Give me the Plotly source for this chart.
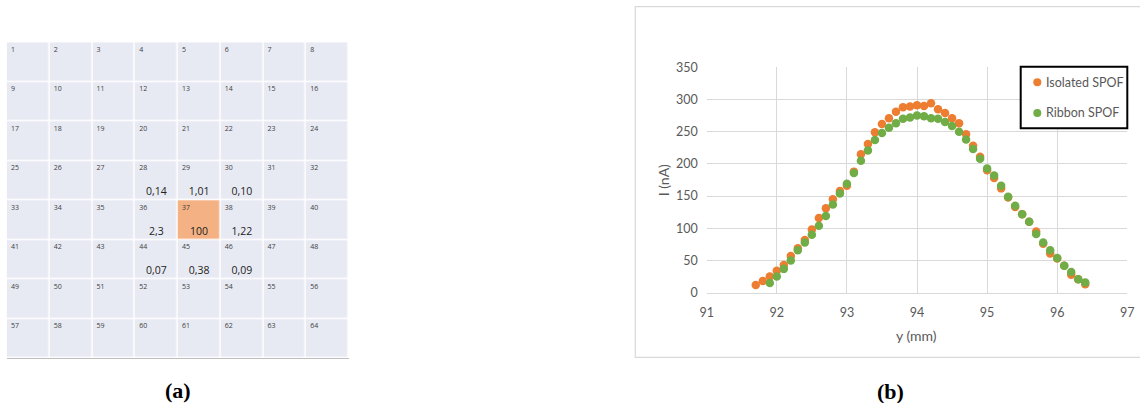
import plotly.graph_objects as go

# ---------------- data ----------------
y_mm_isolated = [91.7, 91.8, 91.9, 92.0, 92.1, 92.2, 92.3, 92.4, 92.5, 92.6, 92.7, 92.8, 92.9,
                 93.0, 93.1, 93.2, 93.3, 93.4, 93.5, 93.6, 93.7, 93.8, 93.9, 94.0, 94.1, 94.2,
                 94.3, 94.4, 94.5, 94.6, 94.7, 94.8, 94.9, 95.0, 95.1, 95.2, 95.3, 95.4, 95.5,
                 95.6, 95.7, 95.8, 95.9, 96.0, 96.1, 96.2, 96.3, 96.4]
i_isolated = [12, 18, 25, 34, 43, 57, 69, 82, 98, 116, 131, 145, 158,
              166, 188, 215, 231, 249, 262, 271, 281, 288, 289, 291, 290, 294,
              285, 279, 271, 263, 246, 228, 211, 190, 178, 162, 148, 133, 122,
              110, 95, 76, 61, 53, 42, 28, 21, 13]

y_mm_ribbon = [91.9, 92.0, 92.1, 92.2, 92.3, 92.4, 92.5, 92.6, 92.7, 92.8, 92.9,
               93.0, 93.1, 93.2, 93.3, 93.4, 93.5, 93.6, 93.7, 93.8, 93.9, 94.0, 94.1, 94.2,
               94.3, 94.4, 94.5, 94.6, 94.7, 94.8, 94.9, 95.0, 95.1, 95.2, 95.3, 95.4, 95.5,
               95.6, 95.7, 95.8, 95.9, 96.0, 96.1, 96.2, 96.3, 96.4]
i_ribbon = [15, 25, 37, 50, 66, 78, 90, 104, 119, 137, 154,
            169, 186, 205, 221, 237, 248, 256, 263, 270, 272, 275, 274, 271,
            270, 265, 259, 250, 238, 223, 208, 193, 182, 166, 149, 135, 122,
            110, 91, 78, 66, 54, 42, 32, 21, 16]

series_names = ["Isolated SPOF", "Ribbon SPOF"]
series_colors = ["#ED7D31", "#70AD47"]
x_ticks = [91, 92, 93, 94, 95, 96, 97]
y_ticks = [0, 50, 100, 150, 200, 250, 300, 350]

grid_cols = 8
grid_rows = 8
cell_numbers = list(range(1, 65))
cell_values = {28: "0,14", 29: "1,01", 30: "0,10",
               36: "2,3", 37: "100", 38: "1,22",
               44: "0,07", 45: "0,38", 46: "0,09"}
highlight_cell = 37

W, H = 1140, 403


def px(x):
    return x / W


def py(y):
    return (H - y) / H


# ---------------- figure ----------------
fig = go.Figure()

# grid (a) as heatmap
z = []
for r in range(grid_rows):
    row = []
    for c in range(grid_cols):
        n = r * grid_cols + c + 1
        row.append(1 if n == highlight_cell else 0)
    z.append(row)

fig.add_trace(go.Heatmap(
    z=z, x=[c + 0.5 for c in range(grid_cols)], y=[r + 0.5 for r in range(grid_rows)],
    colorscale=[[0, "#E8EAF3"], [1, "#F4B183"]], showscale=False,
    xgap=1.5, ygap=1.5, hoverinfo="skip",
    xaxis="x2", yaxis="y2"))

num_x, num_y, num_t = [], [], []
for n in cell_numbers:
    r = (n - 1) // grid_cols
    c = (n - 1) % grid_cols
    num_x.append(c + 0.1)
    num_y.append(r + 0.2)
    num_t.append(str(n))
fig.add_trace(go.Scatter(
    x=num_x, y=num_y, text=num_t, mode="text", textposition="middle right",
    textfont=dict(family="Open Sans", size=7, color="#404040"),
    hoverinfo="skip", showlegend=False, xaxis="x2", yaxis="y2"))

val_x, val_y, val_t = [], [], []
for n, v in cell_values.items():
    r = (n - 1) // grid_cols
    c = (n - 1) % grid_cols
    val_x.append(c + 0.5)
    val_y.append(r + 0.8)
    val_t.append(v)
fig.add_trace(go.Scatter(
    x=val_x, y=val_y, text=val_t, mode="text", textposition="middle center",
    textfont=dict(family="Open Sans", size=10.5, color="#222222"),
    hoverinfo="skip", showlegend=False, xaxis="x2", yaxis="y2"))

# chart (b)
fig.add_trace(go.Scatter(
    x=y_mm_isolated, y=i_isolated, mode="markers", name=series_names[0],
    marker=dict(color=series_colors[0], size=8.5), showlegend=False))
fig.add_trace(go.Scatter(
    x=y_mm_ribbon, y=i_ribbon, mode="markers", name=series_names[1],
    marker=dict(color=series_colors[1], size=8.5), showlegend=False))

tick_font = dict(family="Lato", size=12.5, color="#595959")

# custom legend (box, swatches, labels)
legend_shapes = [dict(type="rect", xref="paper", yref="paper",
                      x0=px(1020.7), x1=px(1127.3), y0=py(128.3), y1=py(66.7),
                      line=dict(color="black", width=2), fillcolor="white", layer="above")]
legend_annots = []
for k, (name, col) in enumerate(zip(series_names, series_colors)):
    cy = 82.3 + k * 30.7
    legend_shapes.append(dict(type="circle", xref="paper", yref="paper",
                              x0=px(1033.3), x1=px(1041.3), y0=py(cy + 4), y1=py(cy - 4),
                              line=dict(width=0), fillcolor=col, layer="above"))
    legend_annots.append(dict(text=name, xref="paper", yref="paper", x=px(1043.5), y=py(cy),
                              xanchor="left", yanchor="middle", showarrow=False,
                              font=dict(family="Lato", size=12.5, color="#595959")))

fig.update_layout(
    width=W, height=H,
    margin=dict(l=0, r=0, t=0, b=0, pad=0, autoexpand=False),
    paper_bgcolor="white", plot_bgcolor="white",
    showlegend=False,
    xaxis=dict(domain=[px(706.7), px(1127.3)], range=[91, 97], tickvals=x_ticks,
               showgrid=True, gridcolor="#D9D9D9", gridwidth=1.3,
               zeroline=False, showline=True, linecolor="#D9D9D9", linewidth=1.3,
               mirror=False, ticks="", tickfont=tick_font, ticklabelstandoff=8,
               automargin=False),
    yaxis=dict(domain=[py(292.7), py(67.3)], range=[0, 350], tickvals=y_ticks,
               showgrid=True, gridcolor="#D9D9D9", gridwidth=1.3,
               zeroline=False, showline=False, ticks="", tickfont=tick_font,
               ticklabelstandoff=8, automargin=False),
    xaxis2=dict(domain=[px(6.7), px(348.7)], range=[0, 8], visible=True,
                showgrid=False, zeroline=False, showticklabels=False, ticks="",
                showline=True, linecolor="#BFBFBF", linewidth=1.2,
                anchor="y2", fixedrange=True, automargin=False),
    yaxis2=dict(domain=[py(358.3), py(42.3)], range=[8, 0], showgrid=False,
                zeroline=False, showticklabels=False, ticks="", showline=False,
                anchor="x2", fixedrange=True, automargin=False),
    shapes=[dict(type="rect", xref="paper", yref="paper",
                 x0=px(635.3), x1=1.01, y0=py(357.3), y1=py(6.7),
                 line=dict(color="#D9D9D9", width=1.2), layer="below")] + legend_shapes,
    annotations=[
        dict(text="I (nA)", xref="paper", yref="paper", x=px(663.3), y=py(180),
             xanchor="center", yanchor="middle", showarrow=False, textangle=-90,
             font=dict(family="Lato", size=14, color="#595959")),
        dict(text="y (mm)", xref="paper", yref="paper", x=px(916.7), y=py(335),
             xanchor="center", yanchor="middle", showarrow=False,
             font=dict(family="Lato", size=14, color="#595959")),
        dict(text="<b>(a)</b>", xref="paper", yref="paper", x=px(178), y=py(390),
             xanchor="center", yanchor="middle", showarrow=False,
             font=dict(family="Liberation Serif", size=22, color="black")),
        dict(text="<b>(b)</b>", xref="paper", yref="paper", x=px(890.5), y=py(391),
             xanchor="center", yanchor="middle", showarrow=False,
             font=dict(family="Liberation Serif", size=22, color="black")),
    ] + legend_annots,
)

fig.write_html("out.html")
